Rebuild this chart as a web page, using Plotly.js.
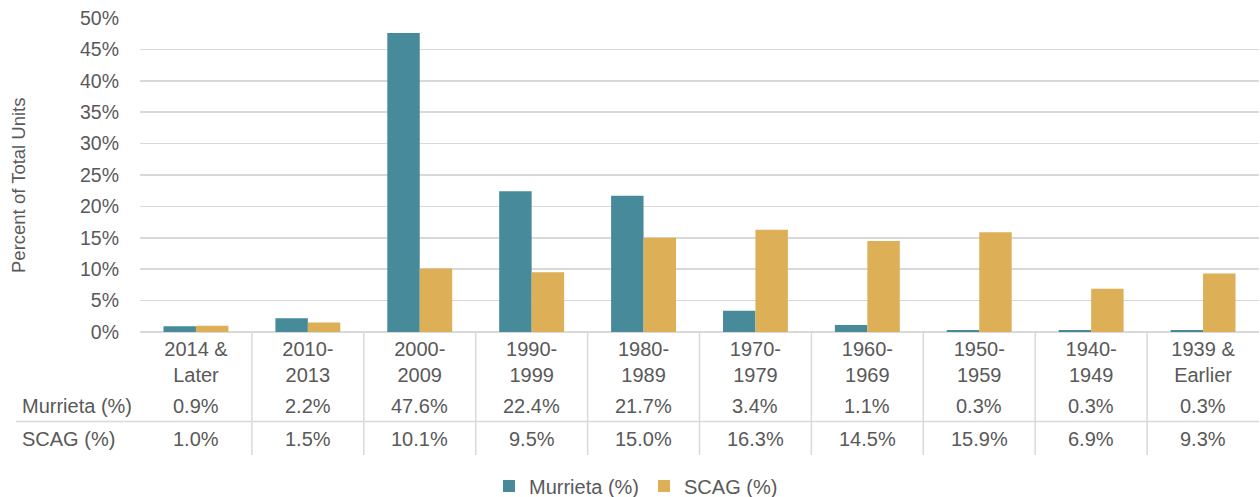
<!DOCTYPE html>
<html>
<head>
<meta charset="utf-8">
<script src="https://cdn.plot.ly/plotly-3.0.1.min.js"></script>
<style>html,body{margin:0;padding:0;background:#fff;overflow:hidden;}#chart{width:1260px;height:497px;}</style>
</head>
<body>
<div id="chart"></div>
<script>
const categories = ["2014 &<br>Later", "2010-<br>2013", "2000-<br>2009", "1990-<br>1999", "1980-<br>1989", "1970-<br>1979", "1960-<br>1969", "1950-<br>1959", "1940-<br>1949", "1939 &<br>Earlier"];
const murrieta = [0.9, 2.2, 47.6, 22.4, 21.7, 3.4, 1.1, 0.3, 0.3, 0.3];
const scag = [1.0, 1.5, 10.1, 9.5, 15.0, 16.3, 14.5, 15.9, 6.9, 9.3];
const seriesNames = ["Murrieta (%)", "SCAG (%)"];
const yTickVals = [0, 5, 10, 15, 20, 25, 30, 35, 40, 45, 50];
const yTickText = ["0%", "5%", "10%", "15%", "20%", "25%", "30%", "35%", "40%", "45%", "50%"];

const TXT = "#595959";
const GRID = "#d9d9d9";
const FONT = "Liberation Sans, Arial, sans-serif";
const idx = categories.map((c, i) => i);

// plot geometry helpers (pixels -> paper)
const W = 1260, H = 497;
const plotTop = 18, plotBottom = 332, plotLeft = 140, plotRight = 1259;
const ph = plotBottom - plotTop, pw = plotRight - plotLeft;
const py = Y => (plotBottom - Y) / ph;
const px = X => (X - plotLeft) / pw;

const traces = [
  {type: "bar", name: seriesNames[0], x: idx, y: murrieta, marker: {color: "#478A99"}, hoverinfo: "none"},
  {type: "bar", name: seriesNames[1], x: idx, y: scag, marker: {color: "#DDAF57"}, hoverinfo: "none"}
];

const annotations = [];
const rows = [[seriesNames[0], murrieta, 406], [seriesNames[1], scag, 439]];
rows.forEach(([label, vals, Y]) => {
  annotations.push({xref: "paper", yref: "paper", x: px(20), y: py(Y), xanchor: "left", yanchor: "middle",
    text: label, showarrow: false, font: {family: FONT, size: 20, color: TXT}});
  vals.forEach((v, i) => {
    annotations.push({xref: "x", yref: "paper", x: i, y: py(Y), xanchor: "center", yanchor: "middle",
      text: v.toFixed(1) + "%", showarrow: false, font: {family: FONT, size: 20, color: TXT}});
  });
});
annotations.push({xref: "paper", yref: "paper", x: px(18), y: py(185), xanchor: "center", yanchor: "middle",
  text: "Percent of Total Units", textangle: -90, showarrow: false, font: {family: FONT, size: 18.5, color: TXT}});

const shapes = [];
for (let i = 1; i < categories.length; i++) {
  shapes.push({type: "line", xref: "x", yref: "paper", x0: i - 0.5, x1: i - 0.5, y0: 0, y1: py(455),
    line: {color: GRID, width: 1.5}});
}
shapes.push({type: "line", xref: "paper", yref: "paper", x0: px(16), x1: 1, y0: py(421.5), y1: py(421.5),
  line: {color: GRID, width: 1.5}});

const layout = {
  width: W, height: H,
  margin: {l: plotLeft, r: W - plotRight, t: plotTop, b: H - plotBottom, pad: 0},
  paper_bgcolor: "#fff", plot_bgcolor: "#fff",
  font: {family: FONT, color: TXT},
  barmode: "group", bargap: 0.42, bargroupgap: 0,
  showlegend: true,
  legend: {orientation: "h", xref: "container", yref: "container", x: 636 / W, xanchor: "center",
    y: (H - 486) / H, yanchor: "middle",
    font: {family: FONT, size: 20, color: TXT}, itemwidth: 30, traceorder: "normal"},
  xaxis: {
    tickmode: "array", tickvals: idx, ticktext: categories, tickangle: 0,
    range: [-0.5, categories.length - 0.5], showgrid: false, zeroline: false,
    showline: false, ticks: "", ticklabelstandoff: 3,
    tickfont: {family: FONT, size: 20, color: TXT}, fixedrange: true, automargin: false
  },
  yaxis: {
    range: [0, 50], tickmode: "array", tickvals: yTickVals, ticktext: yTickText,
    showgrid: true, gridcolor: GRID, gridwidth: 1.5, zeroline: true, zerolinecolor: GRID, zerolinewidth: 1.5,
    showline: false, ticks: "", ticklabelstandoff: 20,
    tickfont: {family: FONT, size: 19.5, color: TXT}, fixedrange: true, automargin: false
  },
  annotations: annotations,
  shapes: shapes
};

Plotly.newPlot("chart", traces, layout, {displayModeBar: false, staticPlot: true});
</script>
</body>
</html>
